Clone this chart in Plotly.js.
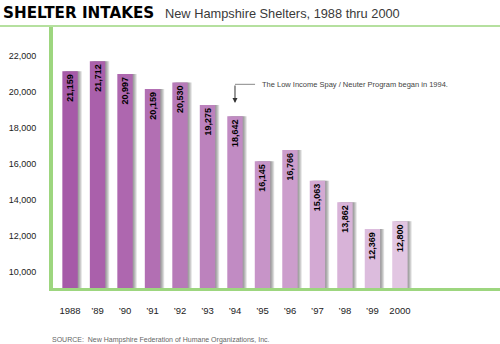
<!DOCTYPE html>
<html>
<head>
<meta charset="utf-8">
<script src="https://cdn.plot.ly/plotly-3.0.1.min.js"></script>
<style>
html,body{margin:0;padding:0;background:#fff;}
#chart{width:500px;height:344px;}
</style>
</head>
<body>
<div id="chart"></div>
<script>
// ---- data ----
const years = ['1988', '\u201989', '\u201990', '\u201991', '\u201992', '\u201993', '\u201994', '\u201995', '\u201996', '\u201997', '\u201998', '\u201999', '2000'];
const intakes = [21159, 21712, 20997, 20159, 20530, 19275, 18642, 16145, 16766, 15063, 13862, 12369, 12800];
const yTicks = [10000, 12000, 14000, 16000, 18000, 20000, 22000];
const barColors = ['#a65aa8', '#aa60ab', '#ae67af', '#b26fb3', '#b77ab8', '#bc82bd', '#c18bc3', '#c794c8', '#cc9dcc', '#d3a9d3', '#d8b3d8', '#dcbcdd', '#e2c6e2'];
const titleText = 'SHELTER INTAKES';
const subtitleText = 'New Hampshire Shelters, 1988 thru 2000';
const noteText = 'The Low Income Spay / Neuter Program began in 1994.';
const sourceText = 'SOURCE:  New Hampshire Federation of Humane Organizations, Inc.';
const noteCategory = '\u201994';

const green = '#9dd67f';
const barW = 0.56;
const px = 1 / 27.5; // one pixel in category units

const traces = [];
// soft drop shadow layers
[1, 2, 3, 4].forEach(function (k) {
  traces.push({
    type: 'bar', x: years, y: intakes, width: barW, offset: -barW / 2 + k * px,
    marker: {color: 'rgba(60,60,60,0.16)', line: {width: 0}},
    hoverinfo: 'skip', showlegend: false
  });
});
traces.push({
  type: 'bar', x: years, y: intakes, width: barW, offset: -barW / 2,
  marker: {color: barColors, line: {width: 0}},
  text: intakes.map(function (v) { return v.toLocaleString('en-US'); }),
  textposition: 'inside', insidetextanchor: 'end', textangle: -90,
  constraintext: 'none',
  textfont: {family: 'Liberation Sans, Arial, sans-serif', size: 9, color: '#000', weight: 'bold'},
  hoverinfo: 'skip', showlegend: false
});

const noteIdx = years.indexOf(noteCategory);

const layout = {
  width: 500, height: 344,
  margin: {l: 53, r: 0, t: 27, b: 56},
  paper_bgcolor: '#fff', plot_bgcolor: '#fff',
  barmode: 'overlay',
  showlegend: false,
  font: {family: 'Liberation Sans, Arial, sans-serif', color: '#333'},
  xaxis: {
    type: 'category', range: [-0.62, 15.64],
    showline: true, linecolor: green, linewidth: 3,
    showgrid: false, zeroline: false,
    ticks: 'outside', ticklen: 12, tickcolor: 'rgba(0,0,0,0)',
    tickfont: {size: 9.5, color: '#222'}, fixedrange: true
  },
  yaxis: {
    range: [9093, 23614],
    tickvals: yTicks, ticktext: yTicks.map(function (v) { return v.toLocaleString('en-US'); }),
    showline: true, linecolor: green, linewidth: 4,
    showgrid: false, zeroline: false,
    ticks: 'outside', ticklen: 11, tickcolor: 'rgba(0,0,0,0)',
    tickfont: {size: 9, color: '#222'}, fixedrange: true
  },
  shapes: [
    {type: 'line', xref: 'paper', yref: 'paper', x0: -0.13, x1: 1, y0: 1.004, y1: 1.004,
     line: {color: green, width: 1.5}},
    {type: 'line', xref: 'x', yref: 'y', x0: noteIdx, x1: noteIdx + 0.73, y0: 20425, y1: 20425,
     line: {color: '#888', width: 1}}
  ],
  annotations: [
    {xref: 'paper', yref: 'paper', x: -0.116, y: 1.052, xanchor: 'left', yanchor: 'middle',
     text: '<b>' + titleText + '</b>', showarrow: false,
     font: {family: 'DejaVu Sans, sans-serif', size: 15.2, color: '#000'}},
    {xref: 'paper', yref: 'paper', x: 0.246, y: 1.05, xanchor: 'left', yanchor: 'middle',
     text: subtitleText, showarrow: false,
     font: {family: 'Liberation Sans, Arial, sans-serif', size: 12.8, color: '#3a3a3a'}},
    {xref: 'x', yref: 'y', x: noteIdx, y: 19385, ax: 0, ay: -19, showarrow: true,
     arrowhead: 2, arrowsize: 1, arrowwidth: 1, arrowcolor: '#333', text: ''},
    {xref: 'x', yref: 'y', x: noteIdx + 0.92, y: 20425, xanchor: 'left', yanchor: 'middle',
     text: noteText, showarrow: false,
     font: {family: 'Liberation Sans, Arial, sans-serif', size: 7.5, color: '#444'}},
    {xref: 'paper', yref: 'paper', x: -0.007, y: -0.199, xanchor: 'left', yanchor: 'middle',
     text: sourceText, showarrow: false,
     font: {family: 'Liberation Sans, Arial, sans-serif', size: 7, color: '#666'}}
  ]
};

Plotly.newPlot('chart', traces, layout, {staticPlot: true, displayModeBar: false});
</script>
</body>
</html>
